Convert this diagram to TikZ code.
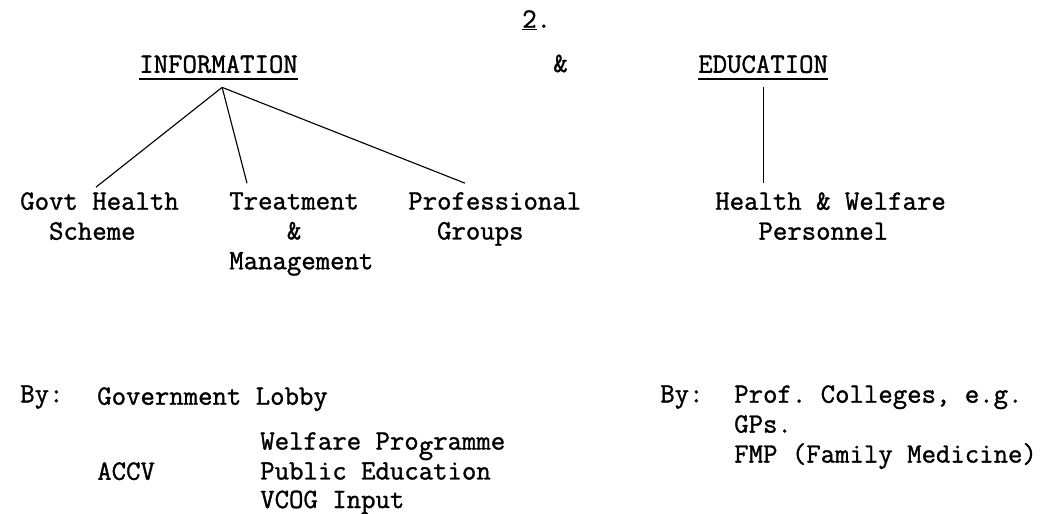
\documentclass[tikz,border=0pt]{standalone}
\usepackage{fontspec}
\setmonofont{Latin Modern Mono}[FakeBold=1.2]
\usepackage{tikz}
\usetikzlibrary{calc}
\newcommand{\typewriter}{\ttfamily\fontsize{19.9}{21.3}\selectfont}

\begin{document}
\begin{tikzpicture}[every node/.style = {font=\typewriter, inner sep=0pt, align=left, anchor=north west},
link/.style={line width=0.8pt}, uline/.style={line width=1.4pt}]

  \useasboundingbox (0,0) rectangle (26.525,12.85);

  \node (num) at (13.05,12.6) {\underline{2}.};
  \node (info) at (3.475,11.475) {INFORMATION};
  \node[anchor=base west] (amp) at (13.825,11.05) {\&};
  \node (edu) at (17.45,11.475) {EDUCATION};
  \draw[uline] ([yshift=-0.15cm]info.base west) -- ([yshift=-0.15cm]info.base east);
  \draw[uline] ([yshift=-0.15cm]edu.base west) -- ([yshift=-0.15cm]edu.base east);

  \node (govt) at (0.5,8.05) {Govt Health\\\phantom{xx}Scheme};
  \node (treat) at (5.725,8.05) {Treatment\\\phantom{xxxx}\&\\Management};
  \node (prof) at (10.2,8.05) {Professional\\\phantom{xx}Groups};
  \node (staff) at (17.875,8.05) {Health \& Welfare\\\phantom{xxx}Personnel};

  \draw[link] ([xshift=0.09cm,yshift=-0.35cm]info.south) -- ([xshift=-0.09cm,yshift=0.12cm]govt.north);
  \draw[link] ([xshift=0.09cm,yshift=-0.35cm]info.south) -- ([xshift=0.45cm,yshift=0.22cm]treat.north west);
  \draw[link] ([xshift=0.09cm,yshift=-0.35cm]info.south) -- ([xshift=1.425cm,yshift=0.22cm]prof.north west);
  \draw[link] ([yshift=-0.35cm]edu.south) -- ($(edu.south |- staff.north)+(0,0.22)$);

  \node (by1) at (0.5,3.225) {By:};
  \node (lobby) at (2.425,3.175) {Government Lobby};
  \node (accv) at (2.425,1.3) {ACCV};
  \node (welfare) at (6.5,2.05) {Welfare Pro\raisebox{-3pt}{g}ramme\\Public Education\\[-1pt]VCOG Input};

  \node (by2) at (16.5,3.225) {By:};
  \node (colleges) at (18.35,3.225) {Prof. Colleges, e.g.\\GPs.\\FMP (Family Medicine)};
\end{tikzpicture}
\end{document}
